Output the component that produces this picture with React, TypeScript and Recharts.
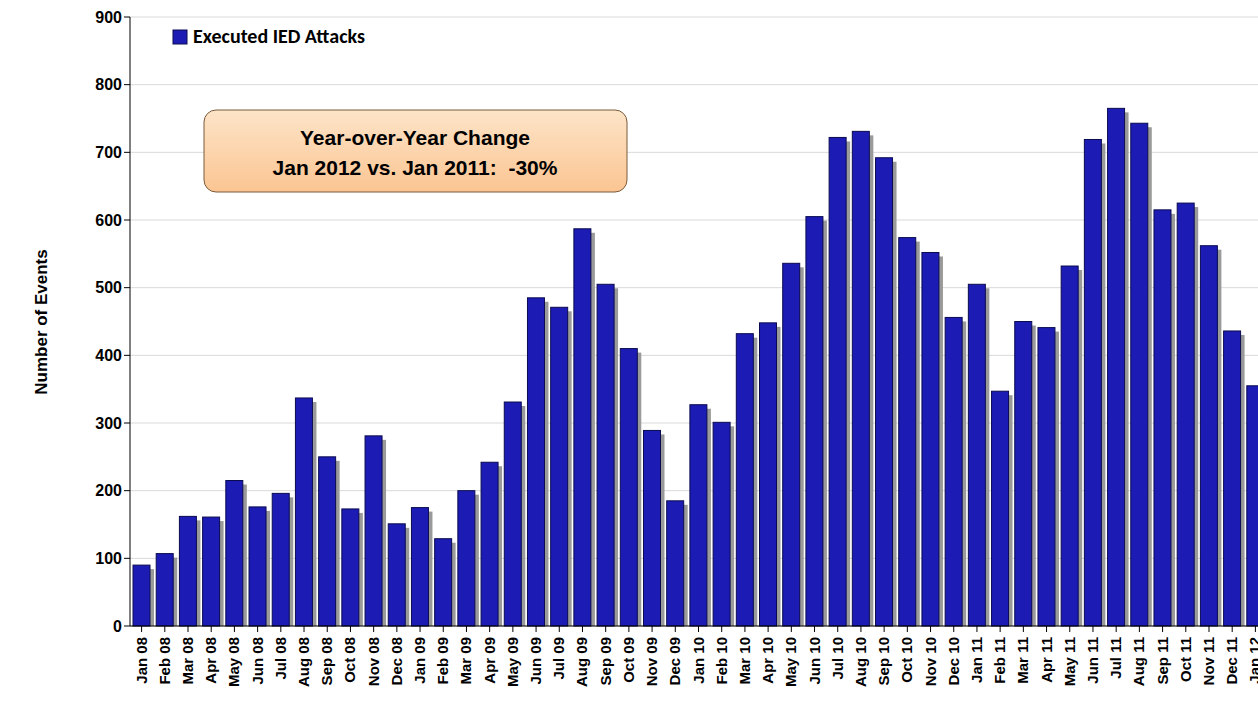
import React from "react";
import { BarChart, Bar, XAxis, YAxis, CartesianGrid } from "recharts";

const months = [
  "Jan 08","Feb 08","Mar 08","Apr 08","May 08","Jun 08","Jul 08","Aug 08","Sep 08","Oct 08","Nov 08","Dec 08",
  "Jan 09","Feb 09","Mar 09","Apr 09","May 09","Jun 09","Jul 09","Aug 09","Sep 09","Oct 09","Nov 09","Dec 09",
  "Jan 10","Feb 10","Mar 10","Apr 10","May 10","Jun 10","Jul 10","Aug 10","Sep 10","Oct 10","Nov 10","Dec 10",
  "Jan 11","Feb 11","Mar 11","Apr 11","May 11","Jun 11","Jul 11","Aug 11","Sep 11","Oct 11","Nov 11","Dec 11",
  "Jan 12",
];
const attacks = [
  90, 107, 162, 161, 215, 176, 196, 337, 250, 173, 281, 151,
  175, 129, 200, 242, 331, 485, 471, 587, 505, 410, 289, 185,
  327, 301, 432, 448, 536, 605, 722, 731, 692, 574, 552, 456,
  505, 347, 450, 441, 532, 719, 765, 743, 615, 625, 562, 436,
  355,
];
const yTicks = [0, 100, 200, 300, 400, 500, 600, 700, 800, 900];

const data = months.map((m, i) => ({ name: m, value: attacks[i] }));

const ShadowBar = (props: any) => {
  const { x, y, width, height } = props;
  if (!height) return null;
  return (
    <g>
      <rect x={x + 4} y={y + 4} width={width} height={height - 4} fill="#9a9a9a" />
      <rect x={x} y={y} width={width} height={height} fill="#1c1cb4" stroke="#0a0a50" strokeWidth={1} />
    </g>
  );
};

const XTick = (props: any) => {
  const { x, y, payload } = props;
  return (
    <text x={x + 5} y={y + 3} transform={`rotate(-90 ${x + 5} ${y + 3})`} textAnchor="end"
      fontSize={15} fontWeight="bold" fill="#000">{payload.value}</text>
  );
};

export default function App() {
  return (
    <div style={{ position: "absolute", left: 0, top: 0, width: 1258, height: 705, overflow: "hidden", background: "#fff", fontFamily: "Arial, 'Liberation Sans', sans-serif" }}>
      <BarChart width={1267} height={705} data={data} margin={{ top: 17, right: 0, left: 0, bottom: 0 }} barSize={17}>
        <CartesianGrid vertical={false} stroke="#d9d9d9" />
        <XAxis dataKey="name" interval={0} tick={<XTick />} height={79} tickLine={{ stroke: "#000" }}
          axisLine={{ stroke: "#000" }} />
        <YAxis width={130} domain={[0, 900]} ticks={yTicks} interval={0} tickLine={{ stroke: "#000" }}
          axisLine={{ stroke: "#000" }} tick={{ fill: "#000", fontSize: 16, fontWeight: "bold" }} />
        <Bar dataKey="value" shape={<ShadowBar />} isAnimationActive={false} />
        <text x={47} y={322} transform="rotate(-90 47 322)" textAnchor="middle" fontSize={17} fontWeight="bold" fill="#000">Number of Events</text>
        <rect x={173} y={30} width={14} height={14} fill="#1c1cb4" stroke="#0a0a50" />
        <text x={193} y={43} fontSize={20} fontWeight="bold" fill="#000" fontFamily="Calibri, Carlito, 'Liberation Sans', sans-serif">Executed IED Attacks</text>
        <defs>
          <linearGradient id="boxGrad" x1="0" y1="0" x2="0" y2="1">
            <stop offset="0%" stopColor="#fde4c8" />
            <stop offset="100%" stopColor="#fbc592" />
          </linearGradient>
        </defs>
        <rect x={204} y={110} width={423} height={82} rx={12} fill="url(#boxGrad)" stroke="#7a5a3a" strokeWidth={1} />
        <text x={415} y={145} textAnchor="middle" fontSize={21} fontWeight="bold" fill="#000">Year-over-Year Change</text>
        <text x={415} y={175} textAnchor="middle" fontSize={21} fontWeight="bold" fill="#000" style={{ whiteSpace: "pre" }}>Jan 2012 vs. Jan 2011:  -30%</text>
      </BarChart>
    </div>
  );
}
